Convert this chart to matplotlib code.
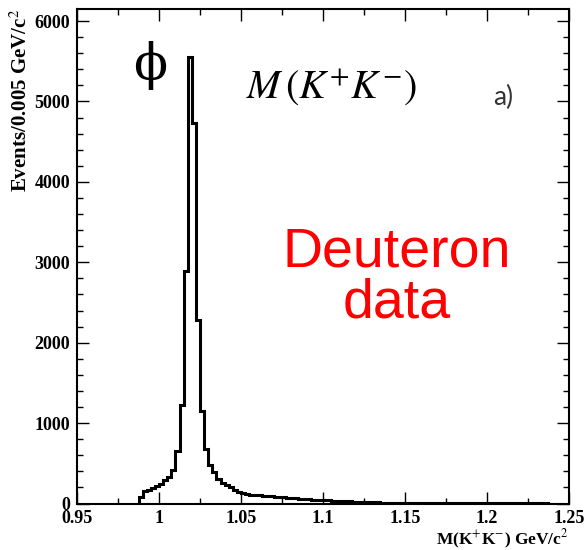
import numpy as np
import matplotlib.pyplot as plt
from matplotlib.ticker import MultipleLocator, FormatStrFormatter

# binning of the M(K+K-) histogram (GeV/c^2)
bin_lo = 0.9875
bin_w = 0.0025

# events per bin
counts = [
    85, 150, 170, 195, 215, 245, 290, 330, 420, 650,
    1220, 2890, 5550, 4730, 2280, 1150, 680, 480, 390, 310,
    260, 225, 200, 170, 140, 125, 118, 110, 105, 100,
    96, 92, 88, 84, 80, 78, 72, 70, 66, 62,
    60, 55, 50, 48, 45, 40, 38, 34, 32, 30,
    28, 26, 25, 22, 24, 20, 18, 16, 15, 12,
    11, 12, 9, 8, 8, 10, 7, 6, 6, 5,
    7, 5, 4, 6, 4, 3, 5, 4, 3, 4,
    3, 5, 3, 2, 4, 3, 2, 3, 2, 4,
    2, 3, 2, 1, 3, 2, 1, 2, 1, 1,
    0,
]

xticks = [0.95, 1.0, 1.05, 1.1, 1.15, 1.2, 1.25]
yticks = [0, 1000, 2000, 3000, 4000, 5000, 6000]

edges = bin_lo + bin_w * np.arange(len(counts) + 1)

plt.rcParams['font.family'] = ['Liberation Serif', 'DejaVu Serif']
plt.rcParams['mathtext.fontset'] = 'stix'

fig = plt.figure(figsize=(5.87, 5.5), dpi=100)
ax = fig.add_axes([0.1312, 0.0845, 0.8381, 0.8991])

ax.stairs(counts, edges, color='black', lw=2.2, baseline=0)

ax.set_xlim(0.95, 1.25)
ax.set_ylim(0, 6150)
ax.set_xticks(xticks)
ax.set_yticks(yticks)
ax.xaxis.set_minor_locator(MultipleLocator(0.025))
ax.yaxis.set_minor_locator(MultipleLocator(200))
ax.xaxis.set_major_formatter(FormatStrFormatter('%g'))

ax.tick_params(which='both', direction='in', top=True, right=True, width=1.0)
ax.tick_params(which='major', length=8.5, labelsize=13, pad=5)
ax.tick_params(which='minor', length=4.3)
for lab in ax.get_xticklabels() + ax.get_yticklabels():
    lab.set_fontweight('bold')
for sp in ax.spines.values():
    sp.set_linewidth(1.5)

ax.set_xlabel(r'M(K$^{+}$K$^{-}$) GeV/c$^{2}$', fontweight='bold', fontsize=12.5, loc='right', labelpad=0)
ax.set_ylabel(r'Events/0.005 GeV/c$^{2}$', fontweight='bold', fontsize=15, loc='top', labelpad=2)

ax.text(0.148, 0.887, 'ϕ', transform=ax.transAxes, fontsize=36, ha='center', va='center',
        family=['DejaVu Serif'])
ax.text(0.518, 0.842, r'$M\,(K^{+}K^{-})$', transform=ax.transAxes, fontsize=29, ha='center', va='center')
ax.text(0.866, 0.822, 'a)', transform=ax.transAxes, fontsize=19, ha='center', va='center',
        family=['Lato', 'DejaVu Sans'], color='#333333')
ax.text(0.65, 0.456, 'Deuteron\ndata', transform=ax.transAxes, fontsize=40, ha='center', va='center',
        family='Liberation Sans', color='#ff0000', linespacing=0.98)

fig.savefig('out.png', dpi=100)
